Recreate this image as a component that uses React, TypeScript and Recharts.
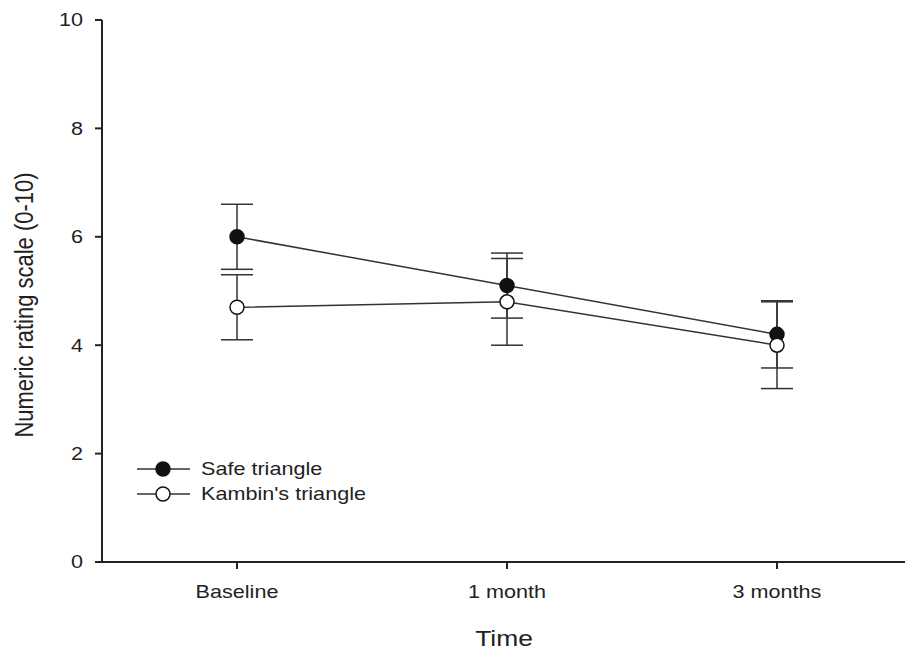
import React from "react";
import { LineChart, Line, XAxis, YAxis, ErrorBar } from "recharts";

const categories = ["Baseline", "1 month", "3 months"];
const safeMeans = [6.0, 5.1, 4.2];
const safeErr = [0.6, 0.6, 0.62];
const kambinMeans = [4.7, 4.8, 4.0];
const kambinErr = [0.6, 0.8, 0.8];
const yTicks = [0, 2, 4, 6, 8, 10];
const seriesNames = ["Safe triangle", "Kambin's triangle"];

const data = categories.map((c, i) => ({
  x: i,
  name: c,
  safe: safeMeans[i],
  safeErr: safeErr[i],
  kambin: kambinMeans[i],
  kambinErr: kambinErr[i],
}));

const FONT = "'Liberation Sans', Arial, sans-serif";
const TEXT = "#222";
const SX = 1.2;

const XTick = (props: any) => {
  const { x, y, payload } = props;
  return (
    <g transform={`translate(${x},${y}) scale(${SX},1)`}>
      <text x={0} y={0} dy="0.71em" textAnchor="middle" fontFamily={FONT} fontSize={18} fill={TEXT}>
        {categories[payload.value]}
      </text>
    </g>
  );
};

const YTick = (props: any) => {
  const { x, y, payload } = props;
  return (
    <g transform={`translate(${x},${y}) scale(${SX},1)`}>
      <text x={0} y={0} dy="0.355em" textAnchor="end" fontFamily={FONT} fontSize={18} fill={TEXT}>
        {payload.value}
      </text>
    </g>
  );
};

const YLabel = () => (
  <g transform={`translate(24,305) scale(${SX},1) rotate(-90)`}>
    <text x={0} y={0} dy="0.355em" textAnchor="middle" fontFamily={FONT} fontSize={22} fill={TEXT}>
      Numeric rating scale (0-10)
    </text>
  </g>
);

const XLabel = (props: any) => {
  const vb = props.viewBox || {};
  const cx = vb.x + vb.width / 2 - 3;
  return (
    <g transform={`translate(${cx},646) scale(${SX},1)`}>
      <text x={0} y={0} textAnchor="middle" fontFamily={FONT} fontSize={22} fill={TEXT}>
        Time
      </text>
    </g>
  );
};

const LegendBox = () => (
  <svg width={260} height={60} style={{ position: "absolute", left: 132, top: 457, display: "block" }}>
    {seriesNames.map((n, i) => {
      const y = 12 + i * 25;
      return (
        <g key={n}>
          <line x1={5} x2={58} y1={y} y2={y} stroke="#333" strokeWidth={1.5} />
          <circle cx={31} cy={y} r={7} fill={i === 0 ? "#111" : "#fff"} stroke="#111" strokeWidth={1.5} />
          <g transform={`translate(69,${y}) scale(${SX},1)`}>
            <text x={0} y={0} dy="0.355em" fontFamily={FONT} fontSize={18} fill={TEXT}>
              {n}
            </text>
          </g>
        </g>
      );
    })}
  </svg>
);

export default function App() {
  return (
    <div style={{ position: "absolute", left: 0, top: 0, width: 905, height: 653, overflow: "hidden", background: "#fff" }}>
      <LineChart width={912} height={653} data={data} margin={{ top: 20, right: 0, left: 0, bottom: 61 }}>
        <XAxis
          dataKey="x"
          type="number"
          domain={[-0.5, 2.5]}
          ticks={[0, 1, 2]}
          height={30}
          tickSize={7}
          tickMargin={16}
          stroke="#222"
          strokeWidth={2}
          tick={<XTick />}
          label={<XLabel />}
        />
        <YAxis
          type="number"
          domain={[0, 10]}
          ticks={yTicks}
          width={102}
          tickSize={7}
          tickMargin={12}
          stroke="#222"
          strokeWidth={2}
          tick={<YTick />}
          label={<YLabel />}
        />
        <Line
          dataKey="safe"
          name={seriesNames[0]}
          stroke="#333"
          strokeWidth={1.5}
          isAnimationActive={false}
          dot={{ r: 7, fill: "#111", stroke: "#111", strokeWidth: 1.5 }}
          activeDot={false}
        >
          <ErrorBar dataKey="safeErr" width={16} stroke="#333" strokeWidth={1.5} direction="y" />
        </Line>
        <Line
          dataKey="kambin"
          name={seriesNames[1]}
          stroke="#333"
          strokeWidth={1.5}
          isAnimationActive={false}
          dot={{ r: 7, fill: "#fff", stroke: "#111", strokeWidth: 1.5 }}
          activeDot={false}
        >
          <ErrorBar dataKey="kambinErr" width={16} stroke="#333" strokeWidth={1.5} direction="y" />
        </Line>
      </LineChart>
      <LegendBox />
    </div>
  );
}
